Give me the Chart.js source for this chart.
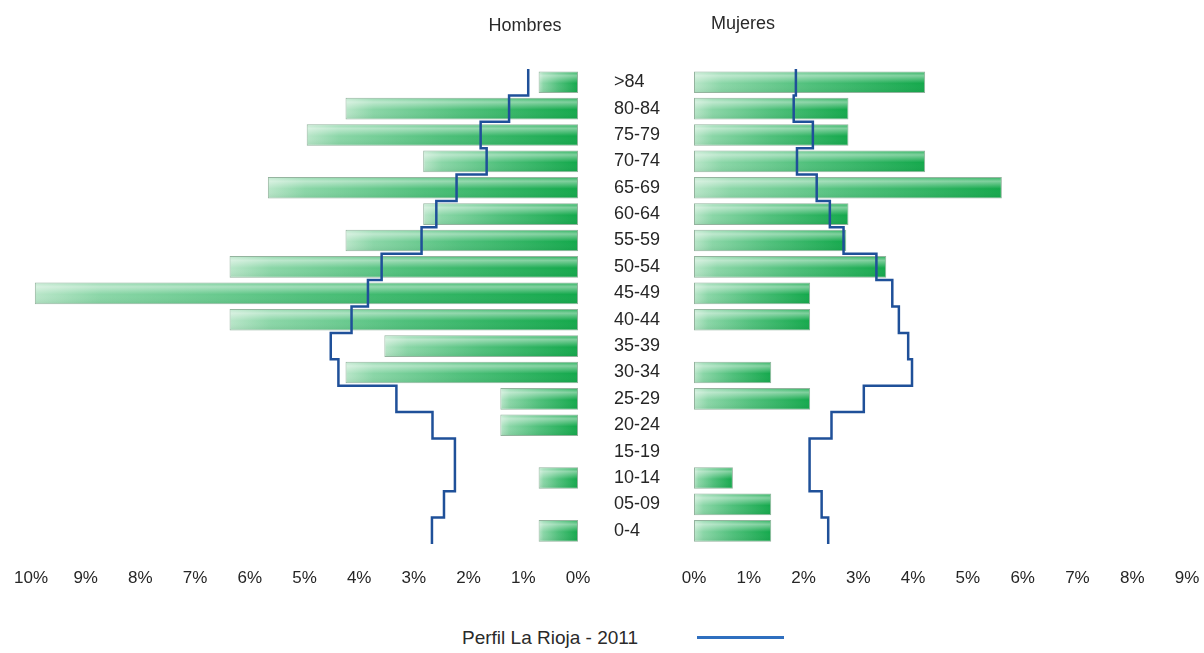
<!DOCTYPE html>
<html>
<head>
<meta charset="utf-8">
<script src="https://cdn.jsdelivr.net/npm/chart.js@4.4.1/dist/chart.umd.min.js"></script>
<style>
  html, body { margin: 0; padding: 0; background: #ffffff; }
  body { width: 1204px; height: 653px; position: relative; overflow: hidden;
         font-family: "Liberation Sans", Arial, sans-serif; color: #2a2a2a; }
  #left { position: absolute; left: 0; top: 0; }
  #right { position: absolute; left: 600px; top: 0; }
  .title { position: absolute; font-size: 18px; transform: translate(-50%, -50%); white-space: nowrap; }
  #legendText { position: absolute; left: 462px; top: 638px; transform: translateY(-50%);
                font-size: 19px; white-space: nowrap; }
  #legendLine { position: absolute; left: 697px; top: 636px; width: 87px; height: 3px; background: #2f6fbf; }
</style>
</head>
<body>
<canvas id="left" width="600" height="600"></canvas>
<canvas id="right" width="604" height="600"></canvas>
<div class="title" style="left:525px; top:25px;">Hombres</div>
<div class="title" style="left:743px; top:23px;">Mujeres</div>
<div id="legendText"></div>
<div id="legendLine"></div>
<script>
// ---- data ----
const ageGroups = [">84", "80-84", "75-79", "70-74", "65-69", "60-64", "55-59", "50-54", "45-49",
                   "40-44", "35-39", "30-34", "25-29", "20-24", "15-19", "10-14", "05-09", "0-4"];
const menPct = [0.72, 4.25, 4.96, 2.83, 5.67, 2.83, 4.25, 6.37, 9.93,
                6.37, 3.54, 4.25, 1.42, 1.42, null, 0.72, null, 0.72];
const womenPct = [4.22, 2.82, 2.82, 4.22, 5.62, 2.82, 2.78, 3.51, 2.12,
                  2.12, null, 1.41, 2.12, null, null, 0.71, 1.41, 1.41];
const menProfile = [0.91, 1.26, 1.78, 1.67, 2.22, 2.59, 2.86, 3.59, 3.84,
                    4.14, 4.52, 4.38, 3.32, 2.66, 2.25, 2.25, 2.45, 2.67];
const womenProfile = [1.86, 1.82, 2.17, 1.88, 2.24, 2.48, 2.73, 3.33, 3.62,
                      3.74, 3.91, 3.98, 3.10, 2.51, 2.11, 2.11, 2.33, 2.45];
const menTicksMax = 10;
const womenTicksMax = 9;
const legendLabel = "Perfil La Rioja - 2011";

document.getElementById('legendText').textContent = legendLabel;

// ---- helpers ----
const FONT = "'Liberation Sans', Arial, sans-serif";
const TEXT = '#262626';

// step path: a vertical segment across each age band, horizontal steps at band boundaries
function stepPoints(profile) {
  const pts = [];
  profile.forEach((v, i) => {
    pts.push({ x: v, y: i - 0.5 });
    pts.push({ x: v, y: i + 0.5 });
  });
  return pts;
}

function barGradient(ctx) {
  const chart = ctx.chart;
  const xs = chart.scales && chart.scales.x;
  if (!xs || !chart.chartArea || ctx.raw == null || typeof ctx.raw !== 'number') return '#4fc07a';
  const a = xs.getPixelForValue(0), b = xs.getPixelForValue(ctx.raw);
  const l = Math.min(a, b), r = Math.max(a, b);
  if (!(r - l > 0.5)) return '#4fc07a';
  const g = chart.ctx.createLinearGradient(l, 0, r, 0);
  g.addColorStop(0, '#b9e6c9');
  g.addColorStop(0.12, '#8ad6a7');
  g.addColorStop(0.5, '#4fc07b');
  g.addColorStop(1, '#13a84b');
  return g;
}

// glossy sheen on the upper part of each bar (style only; positions come from the bar elements)
const sheenPlugin = {
  id: 'sheen',
  afterDatasetDraw(chart, args) {
    if (args.index !== 0) return;
    const c = chart.ctx;
    args.meta.data.forEach(bar => {
      const p = bar.getProps(['x', 'y', 'base', 'height'], true);
      if (p.x == null || isNaN(p.x)) return;
      const l = Math.min(p.x, p.base), r = Math.max(p.x, p.base);
      if (r - l < 1) return;
      const top = p.y - p.height / 2, h = p.height;
      const g = c.createLinearGradient(0, top, 0, top + h);
      g.addColorStop(0, 'rgba(255,255,255,0.10)');
      g.addColorStop(0.2, 'rgba(255,255,255,0.45)');
      g.addColorStop(0.55, 'rgba(255,255,255,0.0)');
      g.addColorStop(1, 'rgba(0,80,30,0.10)');
      c.save();
      c.fillStyle = g;
      c.fillRect(l + 1, top + 1, r - l - 2, h - 2);
      c.restore();
    });
  }
};

function makeChart(canvasId, values, profile, max, reverse, showLabels, padding) {
  return new Chart(document.getElementById(canvasId), {
    type: 'bar',
    plugins: [sheenPlugin],
    data: {
      labels: ageGroups,
      datasets: [
        {
          type: 'bar',
          data: values,
          indexAxis: 'y',
          grouped: false,
          xAxisID: 'x',
          yAxisID: 'y',
          backgroundColor: barGradient,
          borderColor: '#94b39e',
          borderWidth: 1,
          borderSkipped: false,
          barPercentage: 0.82,
          categoryPercentage: 1.0,
          order: 2
        },
        {
          type: 'line',
          label: legendLabel,
          data: stepPoints(profile),
          indexAxis: 'x',
          xAxisID: 'x',
          yAxisID: 'yl',
          borderColor: '#1f5099',
          borderWidth: 2.5,
          pointRadius: 0,
          fill: false,
          tension: 0,
          order: 1
        }
      ]
    },
    options: {
      indexAxis: 'y',
      responsive: false,
      animation: false,
      events: [],
      layout: { padding: padding, autoPadding: false },
      plugins: { legend: { display: false }, tooltip: { enabled: false }, title: { display: false } },
      scales: {
        x: {
          type: 'linear',
          min: 0, max: max, reverse: reverse,
          offset: false,
          grid: { display: false, drawTicks: false },
          border: { display: false },
          ticks: {
            stepSize: 1,
            padding: 24,
            color: TEXT,
            font: { family: FONT, size: 17 },
            callback: v => v + '%'
          },
          afterFit: axis => { axis.paddingLeft = 0; axis.paddingRight = 0; axis.height = 44; }
        },
        y: {
          type: 'category',
          offset: true,
          display: showLabels,
          position: 'left',
          grid: { display: false, drawTicks: false },
          border: { display: false },
          ticks: {
            display: showLabels,
            crossAlign: 'far',
            padding: 0,
            color: TEXT,
            font: { family: FONT, size: 18 }
          },
          afterFit: axis => {
            axis.paddingTop = 0; axis.paddingBottom = 0;
            axis.width = showLabels ? 80 : 0;
          }
        },
        yl: {
          type: 'linear',
          axis: 'y',
          display: false,
          offset: false,
          grid: { offset: false },
          ticks: { display: false },
          min: -0.5, max: ageGroups.length - 0.5,
          reverse: true,
          afterFit: axis => { axis.paddingTop = 0; axis.paddingBottom = 0; axis.width = 0; }
        }
      }
    }
  });
}

makeChart('left', menPct, menProfile, menTicksMax, true, false, { top: 69, bottom: 12, left: 31, right: 22 });
makeChart('right', womenPct, womenProfile, womenTicksMax, false, true, { top: 69, bottom: 12, left: 14, right: 17 });
</script>
</body>
</html>
